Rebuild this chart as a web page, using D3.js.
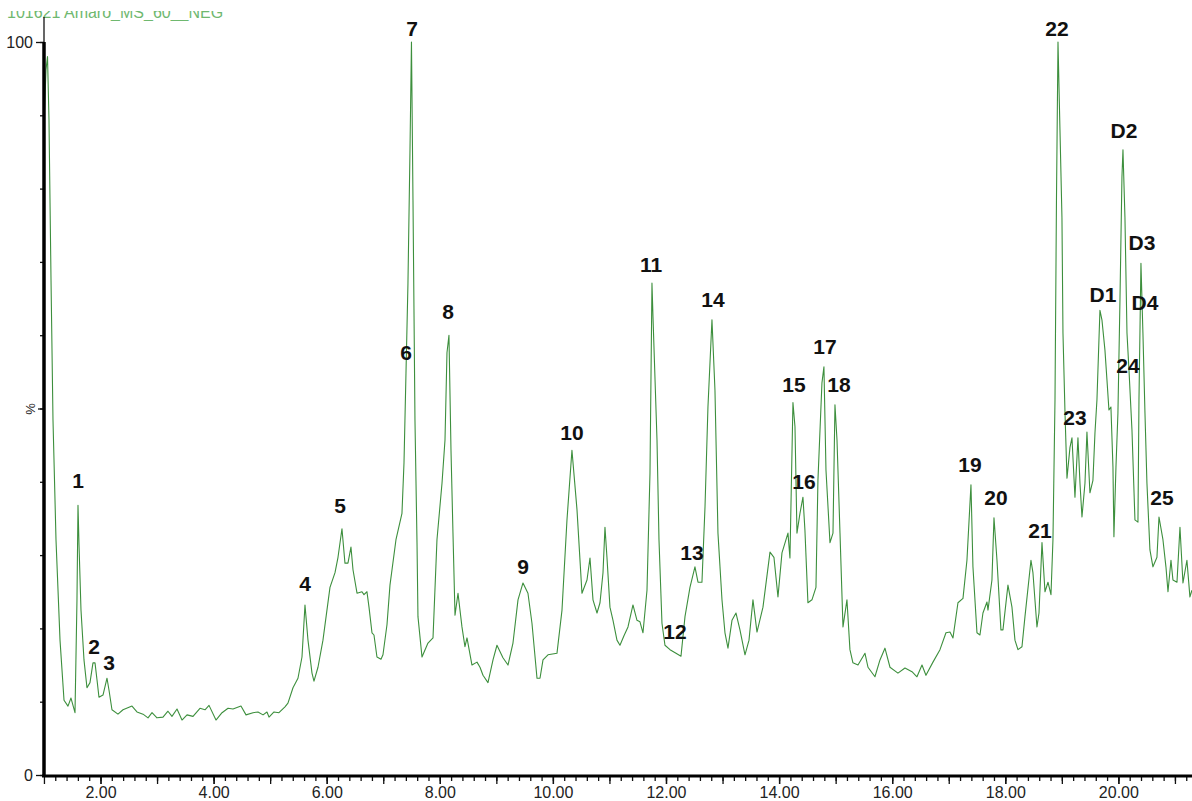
<!DOCTYPE html>
<html lang="en">
<head>
    <meta charset="utf-8">
    <title>Chromatogram</title>
    <script type="text/javascript" src="https://d3js.org/d3.v7.min.js"></script>
    <style>
        body { margin: 0; background: #fff; }
        svg { display: block; }
        .tick text { font-family: "Liberation Sans", Arial, sans-serif; font-size: 16px; fill: #222; }
        .peak-label { font-family: "Liberation Sans", Arial, sans-serif; font-size: 21px; font-weight: bold; fill: #111; }
    </style>
</head>
<body>
    <div id="chart"></div>
    <script type="text/javascript">
        // retention time (min) and relative intensity (%)
        const times = [1.010,1.036,1.063,1.089,1.125,1.160,1.213,1.284,1.355,1.425,1.478,1.549,1.584,1.602,1.620,1.655,1.708,1.761,1.814,1.867,1.903,1.938,1.973,2.044,2.115,2.150,2.203,2.309,2.398,2.557,2.645,2.752,2.840,2.911,2.999,3.105,3.193,3.264,3.353,3.441,3.530,3.636,3.759,3.848,3.919,4.042,4.149,4.255,4.343,4.484,4.573,4.697,4.785,4.874,4.944,4.980,5.068,5.156,5.262,5.315,5.404,5.492,5.563,5.616,5.669,5.740,5.775,5.846,5.934,6.058,6.147,6.200,6.270,6.323,6.376,6.429,6.465,6.536,6.624,6.659,6.712,6.748,6.801,6.836,6.889,6.960,6.995,7.066,7.119,7.225,7.331,7.367,7.402,7.437,7.473,7.499,7.526,7.561,7.597,7.614,7.685,7.791,7.880,7.950,8.039,8.092,8.127,8.162,8.198,8.233,8.269,8.322,8.392,8.445,8.481,8.569,8.658,8.711,8.764,8.852,8.941,9.011,9.117,9.206,9.294,9.383,9.471,9.559,9.630,9.719,9.772,9.825,9.913,10.072,10.161,10.249,10.337,10.426,10.514,10.603,10.656,10.709,10.780,10.833,10.886,10.921,10.956,11.009,11.063,11.133,11.186,11.257,11.328,11.416,11.487,11.540,11.593,11.664,11.717,11.752,11.770,11.841,11.876,11.929,11.982,12.071,12.177,12.265,12.336,12.424,12.512,12.566,12.636,12.690,12.742,12.813,12.866,12.919,12.990,13.043,13.096,13.167,13.238,13.308,13.397,13.468,13.538,13.609,13.715,13.839,13.909,13.980,14.051,14.157,14.192,14.245,14.281,14.316,14.369,14.422,14.457,14.510,14.581,14.652,14.687,14.758,14.793,14.829,14.900,14.953,14.988,15.024,15.077,15.130,15.200,15.253,15.306,15.395,15.519,15.572,15.695,15.784,15.872,15.961,16.102,16.226,16.350,16.438,16.527,16.597,16.721,16.845,16.951,17.022,17.075,17.163,17.252,17.322,17.393,17.428,17.499,17.552,17.605,17.676,17.694,17.764,17.800,17.853,17.923,17.959,18.047,18.118,18.171,18.224,18.295,18.348,18.454,18.489,18.560,18.596,18.649,18.702,18.755,18.808,18.843,18.879,18.905,18.932,18.967,19.002,19.020,19.056,19.091,19.144,19.179,19.232,19.285,19.321,19.356,19.409,19.444,19.497,19.550,19.586,19.621,19.656,19.674,19.709,19.762,19.798,19.833,19.868,19.904,19.921,19.957,19.992,20.028,20.063,20.081,20.116,20.152,20.187,20.240,20.293,20.346,20.364,20.399,20.434,20.470,20.505,20.558,20.611,20.682,20.718,20.788,20.841,20.877,20.930,20.965,21.036,21.089,21.142,21.212,21.265,21.301];
        const intensity = [90.7,96.2,98.0,89.4,67.5,48.4,32.1,18.4,10.2,9.4,10.5,8.5,23.9,36.8,31.4,22.5,15.7,11.9,12.6,15.3,15.3,13.0,10.6,10.9,13.2,11.6,8.9,8.3,8.9,9.4,8.6,8.3,7.8,8.5,7.8,7.9,8.7,8.0,9.0,7.5,8.2,8.0,9.1,8.9,9.5,7.5,8.5,9.1,9.0,9.4,8.2,8.5,8.6,8.2,8.6,7.9,8.6,8.5,9.3,9.8,11.9,13.2,16.1,23.2,18.4,13.9,12.8,14.7,18.4,25.6,27.6,29.7,33.6,28.9,28.9,31.1,28.0,24.8,25.0,24.6,25.0,22.9,19.4,19.1,16.1,15.8,16.4,20.5,25.9,32.1,35.7,42.6,54.8,67.1,85.3,100.0,78.4,48.4,31.7,21.6,16.1,18.0,18.7,32.1,39.8,45.7,57.6,60.0,44.3,33.0,21.8,24.8,20.2,17.5,18.7,15.0,15.4,14.7,13.6,12.6,15.7,17.7,16.0,15.0,18.0,23.9,26.2,24.8,20.7,13.2,13.2,15.7,16.4,16.6,22.5,34.8,44.3,36.2,24.8,26.6,29.6,23.9,22.1,23.5,27.6,33.8,29.7,22.9,21.1,18.4,17.7,19.0,20.2,23.2,21.1,20.9,19.4,25.2,41.2,67.1,62.5,45.7,32.1,20.7,17.7,17.1,16.6,16.2,21.6,25.6,28.4,26.3,26.3,36.6,50.2,62.1,52.5,33.0,23.9,19.4,17.3,21.1,22.1,19.8,16.4,18.4,23.9,19.5,22.9,30.4,29.7,24.3,30.3,33.0,29.6,50.8,47.5,33.0,35.7,37.9,33.4,23.5,23.9,25.6,40.2,53.5,55.7,41.6,31.7,33.0,50.5,45.7,33.0,20.2,23.9,17.1,15.3,15.0,16.6,14.7,13.4,15.7,17.3,14.7,13.9,14.6,14.1,13.4,15.0,13.6,15.4,17.1,19.4,19.5,18.7,23.5,24.1,29.3,39.6,28.4,19.4,19.1,22.1,23.6,22.5,26.6,35.1,29.3,19.8,19.8,25.9,22.9,18.4,17.1,17.5,21.6,29.3,27.6,20.2,22.1,31.7,25.0,26.3,24.6,32.1,51.2,78.4,100.0,88.0,76.1,60.3,49.4,40.5,44.7,46.0,37.9,46.0,39.8,35.2,39.8,46.8,38.5,40.2,46.7,51.2,59.3,63.4,62.1,58.0,53.9,49.8,50.2,42.0,32.5,42.0,49.4,64.8,81.6,85.3,76.1,60.3,55.3,47.1,34.8,34.5,51.2,69.8,60.3,49.4,39.8,30.7,28.4,29.7,35.2,32.1,28.4,25.0,29.3,26.6,26.3,33.8,26.2,29.3,24.3,25.2];

        // peak annotations: name, time, level of label centre
        const peakNames  = ["1","2","3","4","5","6","7","8","9","10","11","12","13","14","15","16","17","18","19","20","21","22","23","24","25","D1","D2","D3","D4"];
        const peakTimes  = [1.602,1.885,2.150,5.616,6.235,7.402,7.508,8.145,9.471,10.337,11.735,12.159,12.459,12.831,14.263,14.440,14.811,15.059,17.375,17.835,18.613,18.914,19.232,20.169,20.770,19.727,20.098,20.417,20.470];
        const peakLevels = [40.2,17.5,15.4,26.1,36.8,57.6,101.9,63.2,28.5,46.8,69.7,19.6,30.4,64.9,53.3,40.0,58.4,53.3,42.4,37.8,33.3,101.9,48.8,55.9,37.9,65.5,88.0,72.7,64.5];

        const xLabelTicks = [2, 4, 6, 8, 10, 12, 14, 16, 18, 20];
        const yLabelTicks = [0, 100];

        const width = 1192;
        const height = 801;

        const svg = d3.select("#chart")
            .append("svg")
            .attr("width", width)
            .attr("height", height);

        svg.append("rect").attr("width", width).attr("height", height).attr("fill", "#fff");

        const x = d3.scaleLinear().domain([1.0, 21.3]).range([43.95, 1191.9]);
        const y = d3.scaleLinear().domain([0, 100]).range([775, 42]);

        // title, cut off at top like the screenshot
        svg.append("clipPath").attr("id", "titleClip")
            .append("rect").attr("x", 0).attr("y", 11).attr("width", 300).attr("height", 10);
        svg.append("text")
            .attr("clip-path", "url(#titleClip)")
            .attr("x", 7).attr("y", 18)
            .style("font-family", "Liberation Sans, Arial, sans-serif")
            .style("font-size", "16px")
            .attr("fill", "#6fb86f")
            .text("101621 Amaro_MS_60__NEG");

        // trace
        const points = times.map((t, i) => [t, intensity[i]]);
        svg.append("path")
            .datum(points)
            .attr("fill", "none")
            .attr("stroke", "#3d8f3d")
            .attr("stroke-width", 1.1)
            .attr("stroke-linejoin", "round")
            .attr("d", d3.line().x(d => x(d[0])).y(d => y(d[1])));

        // x axis: minor, integer and labelled ticks
        const xg = svg.append("g").attr("transform", "translate(0,776)");
        xg.append("g")
            .call(d3.axisBottom(x).tickValues(d3.range(1.2, 21.3, 0.2)).tickSize(5).tickFormat(""))
            .call(g => g.select(".domain").remove());
        xg.append("g")
            .call(d3.axisBottom(x).tickValues(d3.range(1, 22, 1)).tickSize(8).tickFormat(""))
            .call(g => g.select(".domain").remove());
        xg.append("g")
            .call(d3.axisBottom(x).tickValues(xLabelTicks).tickSize(8).tickPadding(3).tickFormat(d3.format(".2f")))
            .call(g => g.select(".domain").remove());
        xg.selectAll("line").attr("stroke", "#111").attr("stroke-width", 1.3);
        xg.append("line")
            .attr("x1", 42).attr("x2", width).attr("y1", 0).attr("y2", 0)
            .attr("stroke", "#000").attr("stroke-width", 3);

        // y axis
        const yg = svg.append("g").attr("transform", "translate(44,0)");
        yg.append("g")
            .call(d3.axisLeft(y).tickValues(d3.range(0, 101, 10)).tickSize(4).tickFormat(""))
            .call(g => g.select(".domain").remove());
        yg.append("g")
            .call(d3.axisLeft(y).tickValues(yLabelTicks).tickSize(8).tickPadding(3))
            .call(g => g.select(".domain").remove());
        yg.append("g")
            .call(d3.axisLeft(y).tickValues([50]).tickSize(6).tickPadding(4).tickFormat(() => "%"))
            .call(g => g.select(".domain").remove())
            .selectAll("text")
            .style("font-size", "13px")
            .attr("text-anchor", "middle")
            .attr("x", 0)
            .attr("y", -14)
            .attr("dy", "0.35em")
            .attr("transform", "rotate(-90)");
        yg.selectAll("line").attr("stroke", "#111").attr("stroke-width", 1.3);
        yg.append("line")
            .attr("x1", 0).attr("x2", 0).attr("y1", y(100)).attr("y2", 777)
            .attr("stroke", "#000").attr("stroke-width", 3.5);
        yg.append("line")
            .attr("x1", 0).attr("x2", 0).attr("y1", 17).attr("y2", y(100))
            .attr("stroke", "#000").attr("stroke-width", 1.2);

        // peak labels
        svg.append("g")
            .selectAll("text")
            .data(peakNames)
            .enter()
            .append("text")
                .attr("class", "peak-label")
                .attr("x", (d, i) => x(peakTimes[i]))
                .attr("y", (d, i) => y(peakLevels[i]))
                .attr("text-anchor", "middle")
                .attr("dy", "0.36em")
                .text(d => d);
    </script>
</body>
</html>
